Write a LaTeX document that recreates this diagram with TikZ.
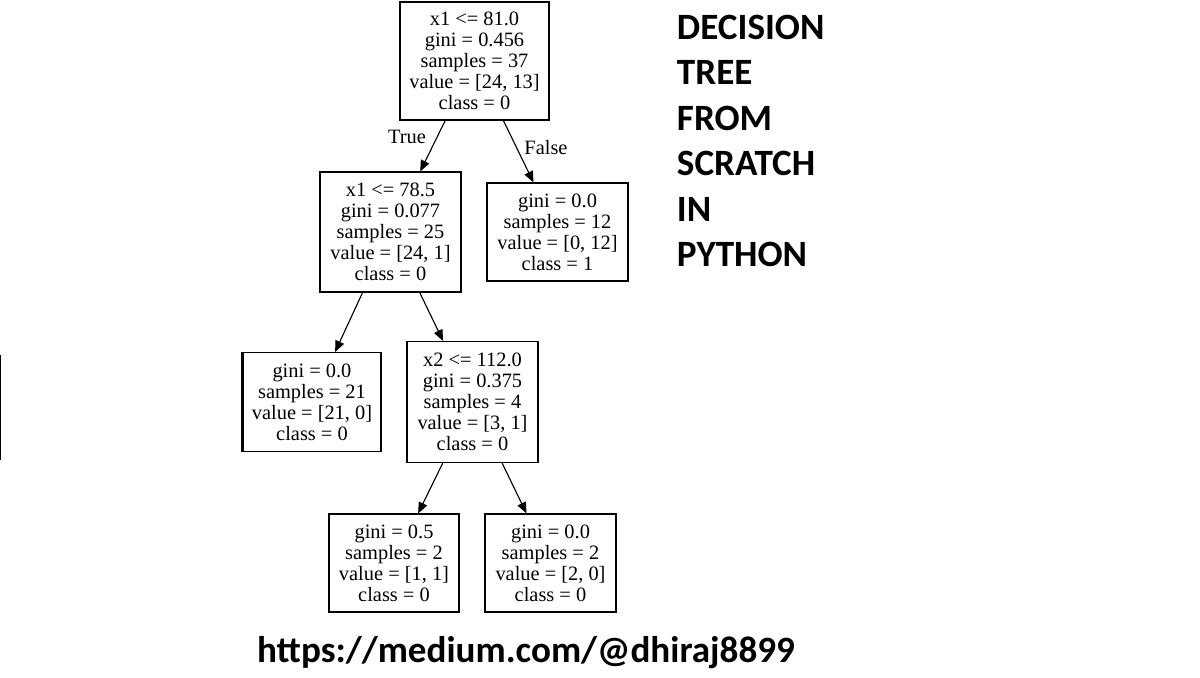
\documentclass[tikz,border=0pt]{standalone}
\usepackage{fontspec}
\setmainfont{Liberation Serif}
\newfontfamily\titlefont{Carlito}
\usetikzlibrary{arrows}
\begin{document}
\begin{tikzpicture}[x=0.025cm,y=-0.025cm]
\tikzstyle{box}=[rectangle,draw=black,thick,align=center,inner sep=2pt,font=\fontsize{14.5}{14.9}\selectfont]
\tikzstyle{edge}=[-triangle 45,thick]
\tikzstyle{title}=[anchor=west,font=\titlefont\bfseries\fontsize{26.4}{26}\selectfont]
\useasboundingbox (0,0) rectangle (1200,677);
\node[box,minimum width=3.725cm,minimum height=2.95cm] (root) at (474.5,61) {x1 <= 81.0\\gini = 0.456\\samples = 37\\value = [24, 13]\\class = 0};
\node[box,minimum width=3.525cm,minimum height=3cm] (left) at (390.5,232) {x1 <= 78.5\\gini = 0.077\\samples = 25\\value = [24, 1]\\class = 0};
\node[box,minimum width=3.525cm,minimum height=2.45cm] (right) at (557.5,232) {gini = 0.0\\samples = 12\\value = [0, 12]\\class = 1};
\node[box,minimum width=3.45cm,minimum height=2.475cm] (leaf) at (312,402) {gini = 0.0\\samples = 21\\value = [21, 0]\\class = 0};
\node[box,minimum width=3.275cm,minimum height=3.025cm] (split) at (472.5,402) {x2 <= 112.0\\gini = 0.375\\samples = 4\\value = [3, 1]\\class = 0};
\node[box,minimum width=3.25cm,minimum height=2.45cm] (bl) at (394,563) {gini = 0.5\\samples = 2\\value = [1, 1]\\class = 0};
\node[box,minimum width=3.275cm,minimum height=2.45cm] (br) at (550.5,563) {gini = 0.0\\samples = 2\\value = [2, 0]\\class = 0};
\draw[edge] (root) -- (left);
\draw[edge] (root) -- (right);
\draw[edge] (left) -- (leaf);
\draw[edge] (left) -- (split);
\draw[edge] (split) -- (bl);
\draw[edge] (split) -- (br);
\draw[line width=2.5pt] (leaf.north west) -- (leaf.south west);
\node[font=\fontsize{14.5}{15}\selectfont] (t) at (407,137) {True};
\node[font=\fontsize{14.5}{15}\selectfont] (f) at (546,148) {False};
\draw[thick] (0.5,355) -- (0.5,460);
\node[title] (t1) at (672,27) {DECISION};
\node[title] (t2) at (672,72) {TREE};
\node[title] (t3) at (672,118) {FROM};
\node[title] (t4) at (672,163) {SCRATCH};
\node[title] (t5) at (672,209) {IN};
\node[title] (t6) at (672,254) {PYTHON};
\node[font=\titlefont\bfseries\fontsize{26.4}{26}\selectfont] (url) at (526,653) {https://medium.com/@dhiraj8899};
\end{tikzpicture}
\end{document}
